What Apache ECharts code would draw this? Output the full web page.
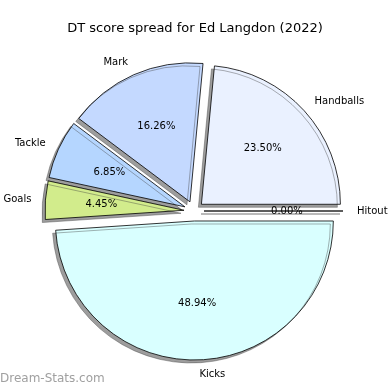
<!DOCTYPE html>
<html><head><meta charset="utf-8">
<script src="https://cdn.jsdelivr.net/npm/echarts@6/dist/echarts.min.js"></script>
<style>html,body{margin:0;padding:0;background:#fff}#c{width:390px;height:390px}</style>
</head><body><div id="c"></div>
<script>
const categories = ['Hitout', 'Handballs', 'Mark', 'Tackle', 'Goals', 'Kicks'];
const values = [0.00, 23.50, 16.26, 6.85, 4.45, 48.94];
const colors = ['#ffffff', '#eaf1ff', '#c4d9ff', '#b5d6ff', '#d2ec8c', '#d9ffff'];
const titleText = 'DT score spread for Ed Langdon (2022)';
const watermark = 'Dream-Stats.com';

const font = 'DejaVu Sans';
const cx = 194, cy = 211, R = 139, EX = 10;

const mainData = categories.map((n, i) => ({
  name: n, value: values[i], selected: true,
  itemStyle: { color: colors[i] }
}));
const labelData = categories.map((n, i) => ({ name: n, value: values[i], selected: true }));

const chart = echarts.init(document.getElementById('c'), null, { renderer: 'canvas' });
chart.setOption({
  animation: false,
  title: [
    { text: titleText, left: 'center', top: 17, textStyle: { fontFamily: font, fontSize: 13, fontWeight: 'normal', color: '#000' } },
    { text: watermark, left: 0, top: 373, padding: 0, textStyle: { fontFamily: font, fontSize: 12, fontWeight: 'normal', color: '#a0a0a0' } }
  ],
  series: [
    {
      type: 'pie', center: [cx, cy], radius: [0, R],
      startAngle: 0, clockwise: false, selectedMode: 'multiple', selectedOffset: EX,
      avoidLabelOverlap: false, silent: true,
      itemStyle: { borderColor: '#000', borderWidth: 0.8, shadowColor: 'rgba(60,60,60,0.5)', shadowBlur: 0, shadowOffsetX: -3, shadowOffsetY: 3 },
      label: { show: true, position: 'outside', distanceToLabelLine: 0, fontFamily: font, fontSize: 10, color: '#000' },
      labelLine: { show: false, length: 14, length2: 0 },
      emphasis: { disabled: true },
      data: mainData
    },
    {
      type: 'pie', center: [cx, cy], radius: [0, R * 1.15],
      startAngle: 0, clockwise: false, selectedMode: 'multiple', selectedOffset: EX,
      avoidLabelOverlap: false, silent: true, z: 5,
      itemStyle: { color: 'rgba(0,0,0,0)', borderWidth: 0 },
      label: { show: true, position: 'inside', fontFamily: font, fontSize: 10, color: '#000',
        formatter: p => p.percent.toFixed(2) + '%' },
      labelLine: { show: false },
      emphasis: { disabled: true },
      data: labelData
    }
  ]
});
</script></body></html>
